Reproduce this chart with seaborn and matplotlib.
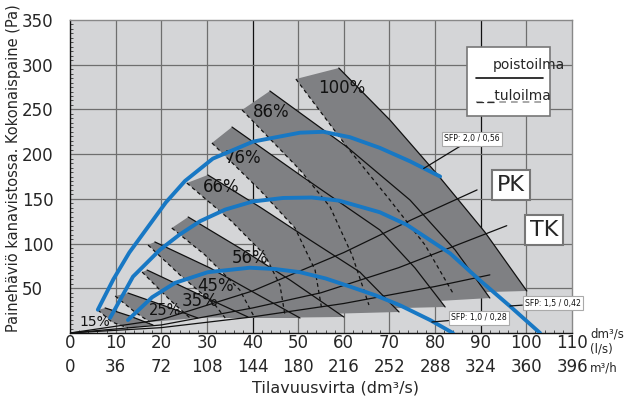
import matplotlib
matplotlib.use("Agg")
import matplotlib.pyplot as plt
import seaborn as sns
import pandas as pd
from matplotlib.patches import Rectangle
from matplotlib.lines import Line2D

sns.set_theme(style="white")
plt.rcParams["font.family"] = ["DejaVu Sans"]

# ---------------- data ----------------
x_ticks = [0, 10, 20, 30, 40, 50, 60, 70, 80, 90, 100, 110]
x_ticks_m3h = ["0", "36", "72", "108", "144", "180", "216", "252", "288", "324", "360", "396"]
y_ticks = [50, 100, 150, 200, 250, 300, 350]

band_names = ["15%", "25%", "35%", "45%", "56%", "66%", "76%", "86%", "100%"]
# poistoilma (solid) edge of each band, from top to bottom
solid_x = [
    [7.7, 13.1, 18.2],
    [12.7, 20.8, 28.0],
    [16.9, 28.5, 39.0],
    [18.6, 30.7, 40.5, 50.4],
    [25.9, 37.2, 48.2, 60.0],
    [30.2, 41.6, 52.6, 63.5, 72.1],
    [35.5, 50.4, 67.9, 75.6, 82.2],
    [43.8, 60.7, 74.5, 84.4, 92.0],
    [58.9, 70.1, 80.6, 90.9, 100.1],
]
solid_y = [
    [28.0, 19.0, 8.9],
    [44.7, 30.2, 16.8],
    [70.4, 42.5, 17.9],
    [101.8, 72.7, 44.7, 16.8],
    [129.7, 95.0, 59.3, 17.9],
    [176.7, 140.9, 104.0, 68.2, 23.5],
    [230.3, 176.7, 115.2, 72.7, 29.1],
    [270.6, 208.0, 148.7, 92.8, 39.1],
    [296.3, 238.2, 176.7, 112.9, 47.0],
]
# tuloilma (dashed) edge of each band, from top to bottom
dash_x = [
    [6.1, 9.2, 12.7],
    [9.9, 14.2, 17.5],
    [15.8, 21.9, 26.3],
    [17.1, 24.1, 31.8, 34.0],
    [22.3, 29.6, 37.2, 40.5],
    [25.6, 35.1, 42.7, 46.0, 47.1],
    [31.1, 41.6, 49.3, 53.7, 55.2],
    [37.7, 50.4, 57.0, 61.8, 65.5],
    [49.5, 60.7, 70.1, 77.8, 83.9],
]
dash_y = [
    [25.7, 12.3, 5.6],
    [41.4, 23.5, 12.3],
    [68.2, 36.9, 16.8],
    [98.4, 64.9, 31.3, 16.8],
    [117.4, 87.2, 48.1, 16.8],
    [167.7, 126.4, 87.2, 53.7, 20.1],
    [212.5, 159.9, 117.4, 70.4, 25.7],
    [249.4, 182.3, 140.9, 87.2, 31.3],
    [284.0, 208.0, 148.7, 98.4, 44.7],
]
label_x = [5.5, 20.8, 28.5, 32.0, 39.4, 33.1, 37.9, 44.0, 59.6]
label_y = [12, 25, 36, 53, 84, 163, 196, 247, 274]
label_size = [10, 10.5, 12, 12, 12, 12, 12, 12, 12]

# SFP limit curves (blue)
sfp_names = ["SFP: 2,0 / 0,56", "SFP: 1,5 / 0,42", "SFP: 1,0 / 0,28"]
sfp_x = [
    [6.1, 9.5, 13.0, 17.0, 21.0, 25.2, 31.3, 40.1, 50.4, 55.5, 61.3, 67.9, 74.5, 81.1],
    [8.8, 13.8, 19.7, 24.0, 28.5, 34.0, 40.0, 46.7, 53.0, 59.0, 67.9, 73.8, 83.3, 89.8, 96.4, 103.0],
    [12.7, 18.0, 23.0, 30.2, 39.4, 45.0, 50.4, 56.0, 61.3, 67.0, 72.3, 78.9, 83.9],
]
sfp_y = [
    [26, 60, 90, 118, 146, 170, 195, 214, 224, 225, 219, 207, 192, 175],
    [17, 63, 93, 110, 125, 138, 147, 151, 151.5, 148, 135, 121, 89, 59, 30, 0],
    [14.5, 40, 56, 68, 73, 71.5, 68, 61, 52, 42, 31, 14.5, 0],
]
sfp_anchor = [(77.5, 184), (96.4, 30.2), (79.3, 12.3)]
sfp_text_pos = [(88.1, 217), (105.8, 33.5), (89.6, 16.8)]

# duct system curves
sys_names = ["PK", "TK", ""]
sys_x = [
    [0, 20, 40, 60, 75, 89.2],
    [0, 20, 40, 55, 72, 95.7],
    [0, 20, 40, 60, 80, 92],
]
sys_y = [
    [0, 15, 47, 90, 127, 160],
    [0, 9, 28, 45, 73, 120],
    [0, 6, 18, 33, 52, 65],
]

# ---------------- figure ----------------
fig = plt.figure(figsize=(6.24, 4.08), dpi=100)
ax = fig.add_axes([70 / 624, 1 - 333 / 408, 502 / 624, 313 / 408])
ax.set_facecolor("#d4d5d7")
ax.set_xlim(0, 110)
ax.set_ylim(0, 350)

# grid
for xv in x_ticks[1:-1]:
    ax.axvline(xv, color="#111111" if xv in (40, 90) else "#6e6e6e", lw=0.9, zorder=1)
for yv in y_ticks[:-1]:
    ax.axhline(yv, color="#6e6e6e", lw=0.9, zorder=1)

band_fill = "#7f8083"
for sx, sy, dx, dy in zip(solid_x, solid_y, dash_x, dash_y):
    px = [dx[0]] + sx + dx[::-1]
    py = [dy[0]] + sy + dy[::-1]
    ax.fill(px, py, color=band_fill, lw=0, zorder=2)

for sx, sy, dx, dy in zip(solid_x, solid_y, dash_x, dash_y):
    ax.plot(sx, sy, color="#111111", lw=0.9, zorder=3)
    ax.plot(dx, dy, color="#111111", lw=0.9, ls=(0, (3, 2.5)), zorder=3)

for sx, sy in zip(sys_x, sys_y):
    ax.plot(sx, sy, color="#111111", lw=0.9, zorder=3)

for name, lx, ly, fs in zip(band_names, label_x, label_y, label_size):
    ax.text(lx, ly, name, fontsize=fs, ha="center", va="center", color="#111111", zorder=4)

for cx, cy in zip(sfp_x, sfp_y):
    df = pd.DataFrame({"q": cx, "p": cy})
    sns.lineplot(data=df, x="q", y="p", sort=False, color="#1878c4", lw=2.8, ax=ax, zorder=5)

for name, anc, pos in zip(sfp_names, sfp_anchor, sfp_text_pos):
    ax.annotate(name, xy=anc, xytext=pos, fontsize=6.2, ha="center", va="center",
                fontstretch="condensed", color="#111111",
                bbox=dict(boxstyle="square,pad=0.25", fc="white", ec="#aaaaaa", lw=0.8),
                arrowprops=dict(arrowstyle="-", color="#111111", lw=0.9, shrinkA=0, shrinkB=0),
                zorder=6)

# PK / TK boxes
ax.text(0.879, 0.474, "PK", transform=ax.transAxes, fontsize=16, ha="center", va="center",
        bbox=dict(boxstyle="square,pad=0.22", fc="white", ec="#777777", lw=1.5), zorder=6)
ax.text(0.944, 0.330, "TK", transform=ax.transAxes, fontsize=16, ha="center", va="center",
        bbox=dict(boxstyle="square,pad=0.22", fc="white", ec="#777777", lw=1.5), zorder=6)

# legend box
ax.add_patch(Rectangle((0.791, 0.693), 0.165, 0.221, transform=ax.transAxes,
                       fc="white", ec="#777777", lw=1.2, zorder=6))
ax.add_line(Line2D([0.809, 0.942], [0.815, 0.815], transform=ax.transAxes,
                   color="#111111", lw=1.2, zorder=7))
ax.add_line(Line2D([0.809, 0.942], [0.738, 0.738], transform=ax.transAxes,
                   color="#999999", lw=1.2, ls=(0, (4, 3)), zorder=7))
ax.text(0.843, 0.856, "poistoilma", transform=ax.transAxes, fontsize=10, ha="left",
        va="center", zorder=8, clip_on=False)
ax.text(0.809, 0.757, "_ _tuloilma", transform=ax.transAxes, fontsize=10, ha="left",
        va="center", zorder=8, clip_on=False)

# axes styling
for side in ["left", "bottom"]:
    ax.spines[side].set_color("#111111")
    ax.spines[side].set_linewidth(1.0)
for side in ["top", "right"]:
    ax.spines[side].set_color("#888888")
    ax.spines[side].set_linewidth(1.0)

ax.set_xticks(x_ticks)
ax.set_xticklabels([f"{a}\n{b}" for a, b in zip(x_ticks, x_ticks_m3h)], fontsize=12,
                   linespacing=1.42)
ax.set_yticks(y_ticks)
ax.set_yticklabels([str(v) for v in y_ticks], fontsize=12, ha="left")
ax.tick_params(axis="x", length=0, pad=1)
ax.tick_params(axis="y", length=0, pad=34.5)
ax.set_xticks(range(0, 111, 2), minor=True)
ax.set_yticks(range(0, 351, 5), minor=True)
ax.tick_params(which="minor", direction="in", length=2.5, width=0.6, color="#333333",
               bottom=True, left=True)
ax.set_xlabel("")
ax.set_ylabel("")

fig.text(335 / 624, 1 - 388 / 408, "Tilavuusvirta (dm³/s)", fontsize=11.5, ha="center", va="center")
fig.text(14 / 624, 1 - 168 / 408, "Painehäviö kanavistossa. Kokonaispaine (Pa)", fontsize=10.5,
         rotation=90, ha="center", va="center")
fig.text(590 / 624, 1 - 334 / 408, "dm³/s", fontsize=8.5, ha="left", va="center")
fig.text(590 / 624, 1 - 349 / 408, "(l/s)", fontsize=8.5, ha="left", va="center")
fig.text(590 / 624, 1 - 368 / 408, "m³/h", fontsize=8.5, ha="left", va="center")

fig.savefig("out.png", dpi=100, facecolor="white")
